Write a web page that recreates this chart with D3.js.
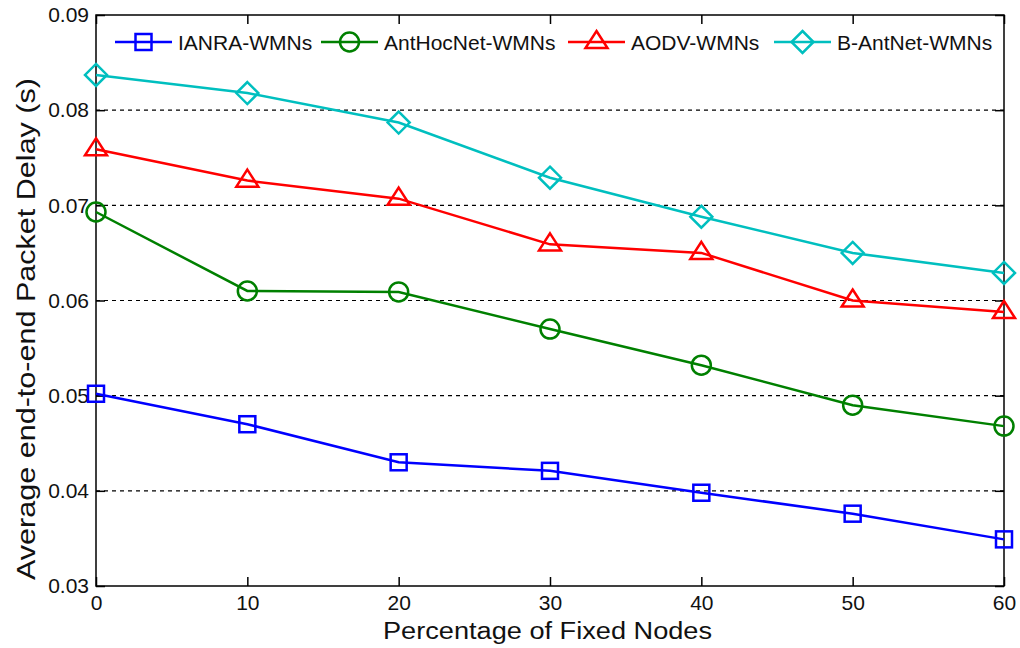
<!DOCTYPE html>
<html>
<head>
<meta charset="utf-8">
<script src="https://cdn.jsdelivr.net/npm/d3@7"></script>
<style>
  html, body { margin: 0; padding: 0; background: #fff; }
  svg text { font-family: "Liberation Sans", Arial, sans-serif; fill: #111; }
</style>
</head>
<body>
<svg id="chart" width="1020" height="648"></svg>
<script>
// Fixed-node percentage on the x axis
const fixedNodes = [0, 10, 20, 30, 40, 50, 60];

// Average end-to-end packet delay (s) per protocol
const ianra    = [0.0502, 0.0470, 0.0430, 0.0421, 0.0398, 0.0376, 0.0349];
const antHoc   = [0.0693, 0.0610, 0.0609, 0.0570, 0.0532, 0.0490, 0.0468];
const aodv     = [0.0759, 0.0726, 0.0707, 0.0659, 0.0650, 0.0600, 0.0588];
const bAntNet  = [0.0837, 0.0818, 0.0787, 0.0729, 0.0688, 0.0650, 0.0629];

const seriesNames = ["IANRA-WMNs", "AntHocNet-WMNs", "AODV-WMNs", "B-AntNet-WMNs"];
const yTicks = [0.03, 0.04, 0.05, 0.06, 0.07, 0.08, 0.09];

const series = [
  { name: seriesNames[0], values: ianra,   color: "#0000ff", marker: "square" },
  { name: seriesNames[1], values: antHoc,  color: "#008000", marker: "circle" },
  { name: seriesNames[2], values: aodv,    color: "#ff0000", marker: "triangle" },
  { name: seriesNames[3], values: bAntNet, color: "#00bfbf", marker: "diamond" }
];

const svg = d3.select("#chart");
const plot = { left: 96, right: 1004, top: 15, bottom: 586 };

const x = d3.scaleLinear().domain([0, 60]).range([plot.left, plot.right]);
const y = d3.scaleLinear().domain([0.03, 0.09]).range([plot.bottom, plot.top]);

// Dashed horizontal grid
svg.append("g")
  .selectAll("line")
  .data(yTicks.slice(1, -1))
  .join("line")
  .attr("x1", plot.left).attr("x2", plot.right)
  .attr("y1", d => y(d)).attr("y2", d => y(d))
  .attr("stroke", "#000").attr("stroke-width", 1.2)
  .attr("stroke-dasharray", "4,4");

const tickLen = 9;
// Axes with inward ticks on all four sides
const bottomAxis = d3.axisBottom(x).tickValues(fixedNodes).tickSize(-tickLen).tickPadding(9).tickFormat(d3.format("d"));
const topAxis = d3.axisTop(x).tickValues(fixedNodes).tickSize(-tickLen).tickFormat("");
const leftAxis = d3.axisLeft(y).tickValues(yTicks).tickSize(-tickLen).tickPadding(7).tickFormat(d3.format(".2f"));
const rightAxis = d3.axisRight(y).tickValues(yTicks).tickSize(-tickLen).tickFormat("");

function styleAxis(g) {
  g.select(".domain").remove();
  g.selectAll(".tick line").attr("stroke", "#000").attr("stroke-width", 1.5);
  g.selectAll(".tick text").attr("font-size", 21).style("font-family", "'Liberation Sans', Arial, sans-serif").attr("fill", "#111");
}

svg.append("g").attr("transform", `translate(0,${plot.bottom})`).call(bottomAxis).call(styleAxis);
svg.append("g").attr("transform", `translate(0,${plot.top})`).call(topAxis).call(styleAxis);
svg.append("g").attr("transform", `translate(${plot.left},0)`).call(leftAxis).call(styleAxis);
svg.append("g").attr("transform", `translate(${plot.right},0)`).call(rightAxis).call(styleAxis);

// Box frame
svg.append("rect")
  .attr("x", plot.left).attr("y", plot.top)
  .attr("width", plot.right - plot.left).attr("height", plot.bottom - plot.top)
  .attr("fill", "none").attr("stroke", "#000").attr("stroke-width", 1.5);

function drawMarker(g, type, cx, cy, color) {
  const s = 8;
  if (type === "square") {
    g.append("rect").attr("x", cx - s).attr("y", cy - s).attr("width", 2 * s).attr("height", 2 * s)
      .attr("fill", "none").attr("stroke", color).attr("stroke-width", 2.5);
  } else if (type === "circle") {
    g.append("circle").attr("cx", cx).attr("cy", cy).attr("r", 9.5)
      .attr("fill", "none").attr("stroke", color).attr("stroke-width", 2.5);
  } else if (type === "triangle") {
    const r = 11;
    g.append("path")
      .attr("d", `M${cx},${cy - r} L${cx + r},${cy + r * 0.55} L${cx - r},${cy + r * 0.55} Z`)
      .attr("fill", "none").attr("stroke", color).attr("stroke-width", 2.5);
  } else if (type === "diamond") {
    const r = 11;
    g.append("path")
      .attr("d", `M${cx},${cy - r} L${cx + r},${cy} L${cx},${cy + r} L${cx - r},${cy} Z`)
      .attr("fill", "none").attr("stroke", color).attr("stroke-width", 2.5);
  }
}

const line = d3.line().x((d, i) => x(fixedNodes[i])).y(d => y(d));

series.forEach(s => {
  const g = svg.append("g");
  g.append("path").datum(s.values).attr("d", line)
    .attr("fill", "none").attr("stroke", s.color).attr("stroke-width", 2.5);
  s.values.forEach((v, i) => drawMarker(g, s.marker, x(fixedNodes[i]), y(v), s.color));
});

// Legend across the top
const legendX = [115, 321, 568, 774];
const legendY = 42;
series.forEach((s, i) => {
  const g = svg.append("g");
  const x0 = legendX[i];
  g.append("line").attr("x1", x0).attr("x2", x0 + 57).attr("y1", legendY).attr("y2", legendY)
    .attr("stroke", s.color).attr("stroke-width", 2.5);
  drawMarker(g, s.marker, x0 + 28.5, legendY, s.color);
  g.append("text").attr("x", x0 + 63).attr("y", legendY + 7.5).attr("font-size", 21).text(s.name);
});

// Axis titles
svg.append("text")
  .attr("x", 383).attr("y", 639)
  .attr("font-size", 23)
  .attr("textLength", 329).attr("lengthAdjust", "spacingAndGlyphs")
  .text("Percentage of Fixed Nodes");

svg.append("text")
  .attr("transform", `translate(35,580) rotate(-90)`)
  .attr("font-size", 25)
  .attr("textLength", 502).attr("lengthAdjust", "spacingAndGlyphs")
  .text("Average end-to-end Packet Delay (s)");
</script>
</body>
</html>
